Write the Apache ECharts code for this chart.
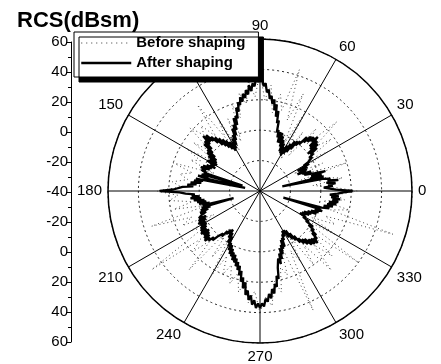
<!DOCTYPE html>
<html>
<head>
<meta charset="utf-8">
<script src="https://cdn.jsdelivr.net/npm/echarts@6/dist/echarts.min.js"></script>
<style>
  html, body { margin: 0; padding: 0; background: #fff; }
  #chart { width: 441px; height: 364px; }
</style>
</head>
<body>
<div id="chart"></div>
<script>
// RCS 极坐标图：整形前 / 整形后
const angleLabels = [0, 30, 60, 90, 120, 150, 180, 210, 240, 270, 300, 330]
const radiusMin = -40
const radiusMax = 60

// 整形后，每 1 度一个点 (dBsm)
const afterStep = 1
const afterRcs = [
  21, 10, 9, 2, 8, 5, 10, 4, 12, 5,
  7, 2, -25, 3, -6, 2, -5, 5, -2, -1,
  -9, -4, -10, -7, -13, -6, -11, -5, -12, -3,
  -7, -3, -4, 1, -1, 3, 1, 7, 0, 9,
  3, 10, 4, 12, 7, 10, 5, 9, 3, 7,
  0, 2, -2, 1, -6, 0, -9, -3, -11, -5,
  -13, -7, -12, -5, -11, -3, -8, -1, -6, 1,
  -6, 1, -3, 2, 0, 8, 6, 14, 10, 18,
  14, 21, 18, 23, 21, 27, 25, 31, 29, 34,
  35, 32, 34, 29, 31, 26, 30, 24, 27, 22,
  25, 20, 23, 18, 20, 14, 17, 10, 12, 6,
  11, 3, 7, 0, 5, -3, 1, -6, -1, -8,
  -3, -9, -2, -7, 0, -5, 2, -3, 4, -1,
  6, 2, 8, 5, 11, 6, 12, 5, 9, 2,
  8, 0, 4, -3, 3, -5, 1, -6, -1, -7,
  0, -6, -3, -7, -1, -5, 1, -4, 2, -2,
  1, -3, -1, -28, 0, -5, 2, -4, -30, 3,
  -2, 4, -1, 6, 2, 8, 4, 11, 10, 17,
  26, 13, 9, 3, 5, 0, 6, -1, 4, -3,
  2, -4, 1, -6, -1, -22, 0, -6, 1, -4,
  2, -2, 1, 0, 4, -1, 5, 0, 6, 1,
  5, 1, 6, 2, 7, 3, 8, 2, 7, 3,
  8, 4, 9, 5, 7, 3, 5, 1, 2, -3,
  -1, -6, -4, -8, -5, -9, -3, -7, 0, -5,
  2, -1, 4, 0, 6, 2, 7, 4, 9, 5,
  10, 7, 12, 9, 14, 11, 17, 14, 21, 18,
  25, 21, 29, 26, 32, 29, 35, 32, 37, 34,
  37, 34, 36, 31, 33, 28, 31, 25, 28, 22,
  24, 17, 19, 12, 13, 6, 10, 3, 7, 0,
  4, -2, 1, -5, 0, -6, -4, -8, -6, -10,
  -7, -10, -4, -9, -2, -6, 0, -3, 3, 0,
  5, 2, 7, 3, 9, 5, 10, 6, 11, 7,
  9, 4, 7, 2, 4, -1, 2, -4, -2, -7,
  -5, -10, -6, -9, -4, -8, -3, -6, 0, -4,
  1, -2, 3, 0, -24, 2, 7, 3, 9, 5,
  11, 6, 12, 8, 13, 7, 12, 6, 11, 15
]

// 整形前，每 3 度一个点 (dBsm)
const beforeStep = 3
const beforeRcs = [
  24, 8, -5, 15, 2, -12, 20, -8, 5, -15,
  12, -3, 18, 6, 28, 4, 15, -10, 8, -15,
  22, -5, 30, 10, 44, 15, 25, 12, 30, 20,
  38, 22, 33, 18, 26, 10, 20, -5, 12, -10,
  15, 2, 30, 6, 18, 12, 22, 2, 14, -6,
  16, 4, 10, -8, 20, 6, 14, 8, 18, 12,
  28, 14, 20, 5, 18, -4, 35, 8, 16, -6,
  12, 4, 48, 10, 20, 6, 30, -8, 14, -2,
  25, 8, 20, 12, 24, 16, 28, 20, 34, 26,
  40, 30, 36, 20, 28, 12, 18, -2, 46, 4,
  14, -6, 20, 5, 30, 10, 24, 2, 40, -5,
  18, -2, 14, 6, 52, 8, 20, 2, 16, 10
]

// polar 数据格式 [radius, angle]，首尾闭合
const toPolar = (values, step) => {
  const pts = values.map((v, i) => [v, i * step])
  pts.push([values[0], 360])
  return pts
}

const font = 'Liberation Sans, Arial, sans-serif'
const chart = echarts.init(document.getElementById('chart'))

const option = {
  animation: false,
  backgroundColor: '#fff',
  title: {
    text: 'RCS(dBsm)',
    left: 17,
    top: 10,
    padding: 0,
    textStyle: { fontFamily: font, fontSize: 22, fontWeight: 'bold', color: '#000' }
  },
  legend: {
    orient: 'vertical',
    left: 74,
    top: 32,
    padding: [3, 13, 6, 6],
    itemGap: 4,
    itemWidth: 50,
    itemHeight: 14,
    backgroundColor: '#fff',
    borderColor: '#000',
    borderWidth: 1,
    shadowColor: '#000',
    shadowBlur: 0,
    shadowOffsetX: 5,
    shadowOffsetY: 5,
    itemStyle: { opacity: 0 },
    textStyle: { fontFamily: font, fontSize: 15, fontWeight: 'bold', color: '#000', lineHeight: 16 },
    data: [
      { name: 'Before shaping', lineStyle: { width: 1, type: [1, 4], color: '#333' } },
      { name: 'After shaping', lineStyle: { width: 2.5, color: '#000' } }
    ]
  },
  // 左侧对称刻度轴
  grid: { left: 71, top: 42, width: 1, height: 300 },
  xAxis: { type: 'value', show: false },
  yAxis: {
    type: 'value',
    min: -100,
    max: 100,
    interval: 20,
    axisLine: { show: true, lineStyle: { color: '#000', width: 1 } },
    axisTick: { show: true, inside: false, length: 5, lineStyle: { color: '#000' } },
    minorTick: { show: true, splitNumber: 2, length: 3, lineStyle: { color: '#000' } },
    splitLine: { show: false },
    axisLabel: {
      margin: 3,
      fontFamily: font,
      fontSize: 15,
      color: '#000',
      formatter: v => String(Math.abs(v) + radiusMin)
    }
  },
  polar: { center: [260, 191], radius: 152 },
  angleAxis: {
    type: 'value',
    min: 0,
    max: 360,
    interval: 30,
    startAngle: 0,
    clockwise: false,
    axisLine: { show: true, lineStyle: { color: '#000', width: 1.5 } },
    axisTick: { show: false },
    splitLine: { show: true, lineStyle: { color: '#000', width: 1 } },
    axisLabel: {
      margin: 6,
      fontFamily: font,
      fontSize: 15,
      color: '#000',
      formatter: v => (angleLabels.includes(v) ? String(v) : '')
    }
  },
  radiusAxis: {
    type: 'value',
    min: radiusMin,
    max: radiusMax,
    interval: 20,
    axisLine: { show: false },
    axisTick: { show: false },
    axisLabel: { show: false },
    splitLine: { show: true, lineStyle: { color: '#222', width: 1, type: [2, 3] } }
  },
  series: [
    {
      name: 'Before shaping',
      type: 'line',
      coordinateSystem: 'polar',
      data: toPolar(beforeRcs, beforeStep),
      symbol: 'none',
      itemStyle: { color: '#333' },
      lineStyle: { color: '#444', width: 1, type: [1, 3] },
      z: 2
    },
    {
      name: 'After shaping',
      type: 'line',
      coordinateSystem: 'polar',
      data: toPolar(afterRcs, afterStep),
      symbol: 'none',
      itemStyle: { color: '#000' },
      lineStyle: { color: '#000', width: 2.3 },
      z: 3
    }
  ]
}

chart.setOption(option)
</script>
</body>
</html>
